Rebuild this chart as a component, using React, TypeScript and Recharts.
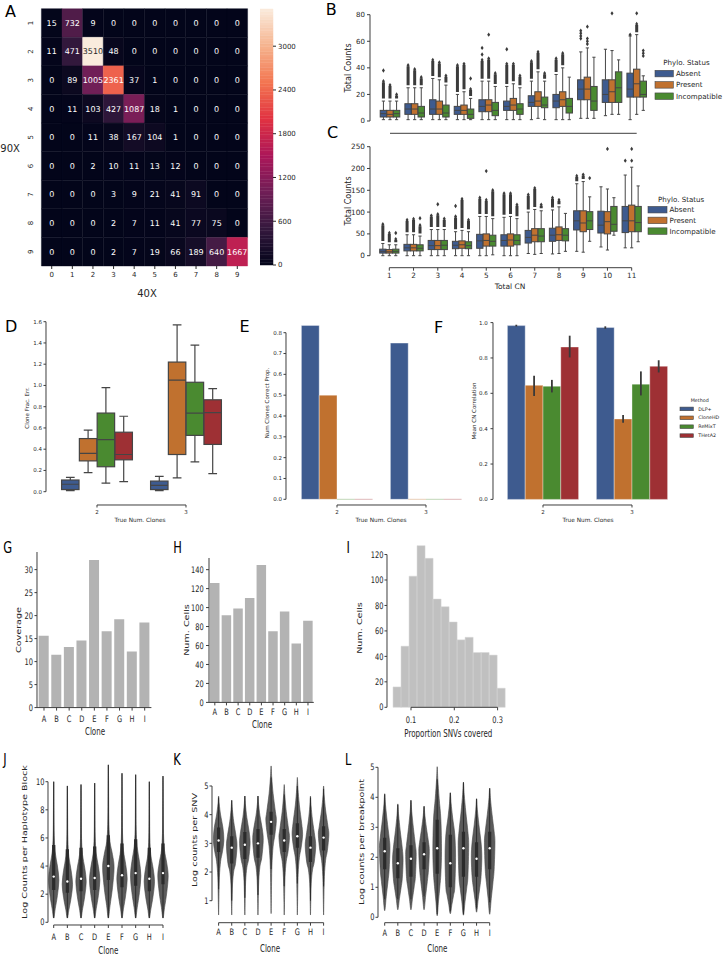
import React from 'react';
import { ComposedChart, BarChart, Bar, XAxis, YAxis, Scatter, ReferenceArea, ReferenceLine } from 'recharts';

const FONT = "'DejaVu Sans', 'Liberation Sans', sans-serif";
const INK = '#262626';
const AX = '#3d3d3d';
const EDGE = '#454545';
const FLIER = '#3b3b3b';
const SQ = 0.74;
const BLUE = '#3E5B8F';
const ORANGE = '#C0712F';
const GREEN = '#4A8A30';
const RED = '#9E3034';
const VFILL = '#5b5b5b';
const VEDGE = '#474747';
const VBOX = '#2b2b2b';

// ---------------- A: heatmap (90X rows vs 40X columns) ----------------
const heatCols = [0, 1, 2, 3, 4, 5, 6, 7, 8, 9];
const heatRows = [1, 2, 3, 4, 5, 6, 7, 8, 9];
const heatRow1 = [15, 732, 9, 0, 0, 0, 0, 0, 0, 0];
const heatRow2 = [11, 471, 3510, 48, 0, 0, 0, 0, 0, 0];
const heatRow3 = [0, 89, 1005, 2361, 37, 1, 0, 0, 0, 0];
const heatRow4 = [0, 11, 103, 427, 1087, 18, 1, 0, 0, 0];
const heatRow5 = [0, 0, 11, 38, 167, 104, 1, 0, 0, 0];
const heatRow6 = [0, 0, 2, 10, 11, 13, 12, 0, 0, 0];
const heatRow7 = [0, 0, 0, 3, 9, 21, 41, 91, 0, 0];
const heatRow8 = [0, 0, 0, 2, 7, 11, 41, 77, 75, 0];
const heatRow9 = [0, 0, 0, 2, 7, 19, 66, 189, 640, 1667];
const heatCounts = [heatRow1, heatRow2, heatRow3, heatRow4, heatRow5, heatRow6, heatRow7, heatRow8, heatRow9];
const colorbarTicks = [0, 600, 1200, 1800, 2400, 3000];
const rocketStops = ['#03051a', '#35193e', '#701f57', '#ad1759', '#e13342', '#f37651', '#f6b48f', '#faebdd'];

// ---------------- B / C: box plots by total CN ----------------
const totalCN = [1, 2, 3, 4, 5, 6, 7, 8, 9, 10, 11];
const phyloStatus = ['Absent', 'Present', 'Incompatible'];
// [whisker low, q1, median, q3, whisker high, top of dense outlier run (0 = none)]
const bAbsent = [[1, 3, 5.5, 8, 15, 30], [1, 5, 9, 13, 25, 42], [1, 5, 9, 16, 32, 46], [1, 5, 8, 11, 20, 42], [1, 7, 11, 16, 30, 46], [1, 8, 11, 15, 26, 43], [1, 11, 14, 19, 30, 45], [1, 10, 15, 20, 35, 47], [2, 16, 24, 31, 52, 0], [4, 14, 20, 31, 54, 0], [1, 18, 24, 36, 64, 0]];
const bPresent = [[1, 3, 5, 8, 15, 27], [1, 5, 9, 13, 25, 39], [1, 5, 9, 15, 31, 44], [1, 5, 8, 12, 22, 43], [1, 7, 12, 16, 30, 47], [1, 8, 12, 17, 28, 43], [2, 11, 15, 22, 37, 52], [1, 11, 16, 22, 40, 51], [2, 16, 24, 33, 55, 0], [5, 14, 22, 31, 53, 0], [5, 18, 28, 39, 65, 73]];
const bIncompatible = [[1, 3, 5.5, 8, 15, 20], [1, 3, 6, 11, 25, 33], [1, 3, 6, 12, 27, 34], [1, 2, 5, 9, 17, 24], [1, 4, 8, 14, 26, 36], [1, 5, 9, 13, 25, 34], [1, 10, 12, 18, 30, 36], [1, 6, 11, 17, 33, 0], [2, 8, 15, 26, 48, 0], [5, 14, 25, 37, 46, 0], [8, 18, 20, 30, 34, 0]];
// [total CN, status index, value]
const bOutliers = [[1, 0, 38], [5, 0, 50], [5, 0, 55], [5, 1, 65], [6, 0, 54], [4, 2, 32], [9, 0, 62], [9, 0, 64], [9, 0, 66], [9, 0, 68], [9, 1, 58], [9, 1, 60], [9, 1, 62], [9, 1, 71], [10, 1, 81], [11, 0, 65], [11, 1, 81], [11, 2, 49], [11, 2, 51], [11, 2, 53]];
const cAbsent = [[0, 6, 10, 15, 28, 72], [0, 11, 18, 26, 48, 82], [0, 14, 23, 35, 60, 92], [0, 16, 24, 33, 55, 90], [0, 17, 34, 49, 90, 133], [0, 22, 35, 48, 88, 143], [5, 29, 42, 58, 100, 140], [4, 33, 47, 63, 105, 133], [10, 59, 80, 103, 165, 183], [20, 52, 70, 102, 158, 0], [18, 53, 80, 113, 185, 0]];
const cPresent = [[0, 6, 9, 14, 25, 52], [0, 11, 18, 26, 48, 84], [0, 14, 23, 35, 60, 95], [0, 17, 25, 34, 58, 130], [0, 22, 35, 50, 90, 128], [0, 22, 36, 50, 90, 143], [3, 32, 47, 62, 106, 155], [5, 35, 48, 66, 112, 128], [8, 55, 75, 103, 170, 186], [13, 50, 78, 101, 153, 0], [18, 55, 80, 116, 203, 0]];
const cIncompatible = [[0, 6, 10, 15, 25, 38], [0, 11, 17, 25, 45, 70], [0, 14, 24, 35, 60, 85], [0, 16, 23, 32, 55, 82], [2, 22, 33, 47, 85, 150], [0, 25, 35, 48, 85, 117], [5, 32, 45, 62, 103, 117], [10, 34, 47, 62, 97, 0], [33, 60, 80, 101, 135, 0], [47, 56, 72, 113, 133, 0], [32, 55, 76, 113, 160, 0]];
const cOutliers = [[1, 2, 52], [2, 2, 86], [3, 1, 118], [4, 0, 114], [5, 1, 194], [9, 2, 178], [10, 1, 245], [11, 0, 218], [11, 1, 218], [11, 1, 245]];

// ---------------- D / E / F: methods ----------------
const methods = ['DLP+', 'CloneHD', 'ReMixT', 'THetA2'];
const trueClones = [2, 3];
// [whisker low, q1, median, q3, whisker high] per true num. clones
const dDLP = [[0.01, 0.02, 0.07, 0.11, 0.135], [0.01, 0.02, 0.06, 0.1, 0.145]];
const dCloneHD = [[0.18, 0.29, 0.36, 0.5, 0.58], [0.13, 0.35, 1.05, 1.22, 1.57]];
const dReMixT = [[0.08, 0.235, 0.49, 0.74, 0.98], [0.28, 0.53, 0.74, 1.03, 1.38]];
const dTHetA2 = [[0.095, 0.3, 0.35, 0.56, 0.71], [0.17, 0.445, 0.745, 0.865, 0.97]];
const eDLP = [0.835, 0.75];
const eCloneHD = [0.5, 0];
const eReMixT = [0, 0];
const eTHetA2 = [0, 0];
const fDLP = [0.983, 0.972];
const fCloneHD = [0.645, 0.455];
const fReMixT = [0.64, 0.652];
const fTHetA2 = [0.862, 0.753];
const fCiDLP = [[0.978, 0.988], [0.965, 0.979]];
const fCiCloneHD = [[0.585, 0.7], [0.434, 0.477]];
const fCiReMixT = [[0.605, 0.676], [0.588, 0.724]];
const fCiTHetA2 = [[0.803, 0.926], [0.718, 0.787]];

// ---------------- G / H / I ----------------
const clones = ['A', 'B', 'C', 'D', 'E', 'F', 'G', 'H', 'I'];
const gCoverage = [15.6, 11.5, 13.2, 14.6, 32.1, 16.6, 19.2, 12.2, 18.5];
const hNumCells = [126, 92, 99, 110, 145, 75, 96, 62, 86];
const iBinEdges = [0.0585, 0.077, 0.0955, 0.114, 0.1325, 0.151, 0.1695, 0.188, 0.2065, 0.225, 0.2435, 0.262, 0.2805, 0.299, 0.3175];
const iCounts = [16, 48, 103, 127, 117, 85, 79, 67, 53, 55, 43, 43, 41, 15];

// ---------------- J / K / L: violins ----------------
// [min, whisker low, q1, median, q3, whisker high, max, mode]
const jHaplo = [[0.3, 0.3, 2.3, 3.25, 5.5, 10.0, 10.0, 3.0], [0.3, 0.3, 2.1, 2.9, 5.2, 9.7, 9.7, 2.7], [0.3, 0.3, 2.2, 3.1, 5.3, 9.8, 9.8, 2.9], [0.3, 0.3, 2.3, 3.15, 5.4, 9.9, 9.9, 3.0], [0.3, 0.3, 3.0, 4.0, 6.2, 11.2, 11.2, 3.9], [0.3, 0.3, 2.5, 3.35, 5.6, 10.6, 10.6, 3.1], [0.3, 0.3, 2.6, 3.5, 5.9, 10.5, 10.5, 3.3], [0.3, 0.3, 2.2, 3.1, 5.3, 10.0, 10.0, 2.9], [0.3, 0.3, 2.7, 3.5, 5.6, 10.4, 10.4, 3.3]];
const kSnv = [[0.5, 1.4, 2.7, 3.1, 3.55, 4.6, 4.65, 3.1], [0.5, 1.0, 2.3, 2.85, 3.25, 4.5, 4.5, 2.9], [0.5, 1.1, 2.45, 2.95, 3.4, 4.65, 4.65, 3.0], [0.5, 1.2, 2.5, 3.0, 3.5, 4.65, 4.65, 3.1], [0.55, 2.1, 3.3, 3.75, 4.1, 5.3, 5.7, 3.8], [0.5, 1.5, 2.7, 3.1, 3.5, 4.7, 5.05, 3.2], [0.5, 1.6, 2.85, 3.25, 3.7, 5.0, 5.3, 3.3], [0.5, 1.0, 2.35, 2.85, 3.25, 4.6, 4.65, 2.9], [0.5, 1.5, 2.75, 3.2, 3.6, 4.9, 5.0, 3.3]];
const lBreak = [[0.22, 0.6, 1.6, 2.2, 2.65, 4.1, 4.12, 2.3], [0.25, 0.6, 1.3, 1.8, 2.3, 3.75, 3.78, 1.9], [0.25, 0.6, 1.35, 1.95, 2.4, 3.9, 3.9, 2.1], [0.25, 0.7, 1.6, 2.1, 2.5, 3.7, 3.7, 2.2], [0.05, 0.1, 1.45, 2.3, 3.25, 4.6, 5.02, 2.2], [0.12, 0.2, 1.0, 1.8, 2.75, 4.15, 4.15, 2.0], [0.07, 0.1, 1.35, 2.3, 2.85, 4.5, 4.5, 2.4], [0.17, 0.3, 1.35, 1.95, 2.5, 3.95, 3.95, 2.0], [0.1, 0.5, 1.6, 2.3, 2.85, 4.3, 4.3, 2.5]];
const jHalfWidth = [0.38, 0.38, 0.38, 0.38, 0.42, 0.38, 0.38, 0.38, 0.38];
const kHalfWidth = [0.4, 0.4, 0.4, 0.4, 0.4, 0.4, 0.4, 0.4, 0.4];
const lHalfWidth = [0.4, 0.4, 0.4, 0.4, 0.33, 0.4, 0.4, 0.4, 0.4];

// ---------------- helpers ----------------
const lin = (p1: number, v1: number, p2: number, v2: number) => (p: number) => v1 + ((p - p1) * (v2 - v1)) / (p2 - p1);
const frame = (x0: number, y0: number, x1: number, y1: number, l: number, t: number, r: number, b: number) => ({
  left: x0 - l, top: y0 - t, width: x1 - x0 + l + r, height: y1 - y0 + t + b,
  margin: { top: t, right: r, bottom: 0, left: 0 }, yW: l, xH: b,
});
const At = ({ f, children }: any) => <div style={{ position: 'absolute', left: f.left, top: f.top }}>{children}</div>;
const tk = (s: number) => ({ fontSize: s, fill: INK, fontFamily: FONT });
const hex = (h: string) => [1, 3, 5].map((i) => parseInt(h.slice(i, i + 2), 16));
function rocket(t: number) {
  const n = rocketStops.length;
  const s = Math.max(0, Math.min(1, t)) * (n - 1);
  const i = Math.min(Math.floor(s), n - 2);
  const f = s - i;
  const a = hex(rocketStops[i]);
  const b = hex(rocketStops[i + 1]);
  return `rgb(${a.map((v, k) => Math.round(v + (b[k] - v) * f)).join(',')})`;
}
const heatMax = Math.max(...heatCounts.map((r) => Math.max(...r)));
// heatmap plot box (pixels) shared by the chart and its row labels
const HM = { x0: 41.4, y0: 8.7, x1: 247.6, y1: 266 };

const sqTick = (kind: 'x' | 'y', fmt: (v: any) => string, size = 9) => (p: any) => (
  <text transform={`translate(${p.x},${p.y}) scale(${SQ},1)`} textAnchor={kind === 'x' ? 'middle' : 'end'} dy={kind === 'x' ? '0.71em' : '0.35em'} fontSize={size} fill={INK} fontFamily={FONT}>
    {fmt(p.payload.value)}
  </text>
);
const diamond = (cx: number, cy: number, k?: any) => <path key={k} d={`M${cx},${cy - 2.2}L${cx + 1.5},${cy}L${cx},${cy + 2.2}L${cx - 1.5},${cy}Z`} fill={FLIER} />;
const Diamond = (p: any) => diamond(p.cx, p.cy);
const NoShape = () => <g />;

function trimLines(xLine: number, yFrom: number, yTo: number, yLine: number, xFrom: number, xTo: number) {
  return [
    <ReferenceLine key="ya" ifOverflow="visible" segment={[{ x: xLine, y: yFrom }, { x: xLine, y: yTo }]} stroke={AX} strokeWidth={1} />,
    <ReferenceLine key="xa" ifOverflow="visible" segment={[{ x: xFrom, y: yLine }, { x: xTo, y: yLine }]} stroke={AX} strokeWidth={1} />,
  ];
}

// box glyph: 6 anchor points per box (q1-left, q3-right, low, high, median, outlier run top)
function boxPoints(rows: number[][], cats: number[], off: number, bw: number) {
  return rows.flatMap((r, i) => {
    const x = cats[i] + off;
    const [lo, q1, med, q3, hi, st] = r;
    return [{ x: x - bw / 2, y: q1 }, { x: x + bw / 2, y: q3 }, { x, y: lo }, { x, y: hi }, { x, y: med }, { x, y: st && st > hi ? st : hi }];
  });
}
const boxLine = (fill: string, lw: number) => (props: any) => {
  const p = props.points || [];
  const els: any[] = [];
  for (let i = 0; i + 5 < p.length; i += 6) {
    const [a, b, lo, hi, med, st] = p.slice(i, i + 6);
    const xl = Math.min(a.x, b.x);
    const xr = Math.max(a.x, b.x);
    const cx = lo.x;
    const cap = (xr - xl) / 4;
    els.push(
      <g key={i}>
        <line x1={cx} x2={cx} y1={lo.y} y2={a.y} stroke={EDGE} strokeWidth={lw} />
        <line x1={cx} x2={cx} y1={b.y} y2={hi.y} stroke={EDGE} strokeWidth={lw} />
        <line x1={cx - cap} x2={cx + cap} y1={lo.y} y2={lo.y} stroke={EDGE} strokeWidth={lw} />
        <line x1={cx - cap} x2={cx + cap} y1={hi.y} y2={hi.y} stroke={EDGE} strokeWidth={lw} />
        <rect x={xl} y={Math.min(a.y, b.y)} width={xr - xl} height={Math.abs(a.y - b.y)} fill={fill} stroke={EDGE} strokeWidth={lw} />
        <line x1={xl} x2={xr} y1={med.y} y2={med.y} stroke={EDGE} strokeWidth={lw} />
        {hi.y - st.y > 3 ? (
          <g>
            <line x1={cx} x2={cx} y1={hi.y - 2.5} y2={st.y + 1} stroke={FLIER} strokeWidth={3} />
            {diamond(cx, st.y)}
          </g>
        ) : null}
      </g>
    );
  }
  return <g>{els}</g>;
};

// violin glyph: 8 anchor points per violin
const lerp = (a: number, b: number, t: number) => a + (b - a) * t;
function violinKnots(kind: string, y: any): number[][] {
  if (kind === 'J')
    return [[lerp(y.lo, y.mode, 0.25), 0.3], [lerp(y.lo, y.mode, 0.6), 0.72], [y.mode, 1], [lerp(y.mode, y.q3, 0.4), 0.72], [lerp(y.mode, y.q3, 0.8), 0.28], [lerp(y.q3, y.hi, 0.15), 0.1], [lerp(y.q3, y.hi, 0.5), 0.055], [lerp(y.q3, y.hi, 0.85), 0.03]];
  if (kind === 'K')
    return [[lerp(y.lo, y.q1, 0.2), 0.05], [lerp(y.lo, y.q1, 0.6), 0.15], [lerp(y.lo, y.q1, 0.85), 0.38], [y.q1, 0.72], [y.mode, 1], [y.q3, 0.82], [lerp(y.q3, y.hi, 0.4), 0.38], [lerp(y.q3, y.hi, 0.75), 0.12]];
  return [[lerp(y.lo, y.q1, 0.35), 0.3], [lerp(y.lo, y.q1, 0.7), 0.62], [y.q1, 0.85], [y.mode, 1], [y.q3, 0.85], [lerp(y.q3, y.hi, 0.4), 0.45], [lerp(y.q3, y.hi, 0.75), 0.15]];
}
function smoothClosed(pts: number[][]) {
  const n = pts.length;
  let d = `M${pts[0][0]},${pts[0][1]}`;
  for (let i = 0; i < n; i++) {
    const p0 = pts[(i - 1 + n) % n], p1 = pts[i], p2 = pts[(i + 1) % n], p3 = pts[(i + 2) % n];
    const c1 = [p1[0] + (p2[0] - p0[0]) / 6, p1[1] + (p2[1] - p0[1]) / 6];
    const c2 = [p2[0] - (p3[0] - p1[0]) / 6, p2[1] - (p3[1] - p1[1]) / 6];
    d += `C${c1[0]},${c1[1]} ${c2[0]},${c2[1]} ${p2[0]},${p2[1]}`;
  }
  return d + 'Z';
}
function violinPoints(stats: number[][], half: number[]) {
  return stats.flatMap((s, i) => {
    const [lo, wlo, q1, med, q3, whi, hi, mode] = s;
    return [{ x: i, y: lo }, { x: i, y: wlo }, { x: i, y: q1 }, { x: i, y: med }, { x: i, y: q3 }, { x: i, y: whi }, { x: i, y: hi }, { x: i + half[i], y: mode }];
  });
}
const violinLine = (kind: string) => (props: any) => {
  const p = props.points || [];
  const els: any[] = [];
  for (let i = 0; i + 7 < p.length; i += 8) {
    const [lo, wlo, q1, med, q3, whi, hi, mode] = p.slice(i, i + 8);
    const cx = lo.x;
    const W = mode.x - lo.x;
    const y = { lo: lo.y, q1: q1.y, q3: q3.y, hi: hi.y, mode: mode.y };
    const knots = violinKnots(kind, y);
    const right = knots.map(([yy, w]) => [cx + w * W, yy]);
    const left = knots.slice().reverse().map(([yy, w]) => [cx - w * W, yy]);
    const outline = [[cx, y.lo], ...right, [cx, y.hi], ...left];
    els.push(
      <g key={i}>
        <path d={smoothClosed(outline)} fill={VFILL} stroke={VEDGE} strokeWidth={0.6} />
        <line x1={cx} x2={cx} y1={wlo.y} y2={whi.y} stroke={VBOX} strokeWidth={1} />
        <line x1={cx} x2={cx} y1={q1.y} y2={q3.y} stroke={VBOX} strokeWidth={3.2} />
        <circle cx={cx} cy={med.y} r={1.2} fill="#fff" />
      </g>
    );
  }
  return <g>{els}</g>;
};

// ---------------- panels ----------------
function PanelA() {
  const f = frame(HM.x0, HM.y0, HM.x1, HM.y1, HM.x0, HM.y0, 2, 22);
  const cells: any[] = [];
  heatCounts.forEach((row, ri) =>
    row.forEach((v, ci) => {
      const r = heatRows[ri];
      const c = heatCols[ci];
      const col = rocket(v / heatMax);
      cells.push(
        <ReferenceArea key={`${r}-${c}`} x1={c - 0.5} x2={c + 0.5} y1={r - 0.5} y2={r + 0.5} fill={col} fillOpacity={1} stroke={col} strokeWidth={0.4} ifOverflow="visible"
          label={{ value: String(v), position: 'center', fill: v / heatMax > 0.8 ? '#262626' : '#ffffff', fontSize: 8, fontFamily: FONT }} />
      );
    })
  );
  return (
    <At f={f}>
      <ComposedChart width={f.width} height={f.height} margin={f.margin}>
        <XAxis type="number" dataKey="x" domain={[-0.5, 9.5]} allowDataOverflow ticks={heatCols} interval={0} tickSize={3} tickMargin={3.5} tick={tk(7)} tickLine={{ stroke: INK }} axisLine={false} height={f.xH} />
        <YAxis type="number" dataKey="y" domain={[0.5, 9.5]} reversed allowDataOverflow ticks={heatRows} interval={0} tickSize={3} tickMargin={0} tick={false} tickLine={{ stroke: INK }} axisLine={false} width={f.yW} />
        {cells}
      </ComposedChart>
    </At>
  );
}

function Colorbar() {
  const steps = 96;
  const bands: any[] = [];
  for (let i = 0; i < steps; i++) {
    const a = (heatMax * i) / steps;
    const b = (heatMax * (i + 1)) / steps;
    const col = rocket((i + 0.5) / steps);
    bands.push(<ReferenceArea key={i} x1={0} x2={1} y1={a} y2={b} fill={col} fillOpacity={1} stroke={col} strokeWidth={0.5} ifOverflow="visible" />);
  }
  return (
    <div style={{ position: 'absolute', left: 260, top: 0 }}>
      <ComposedChart width={13 + 32} height={269} margin={{ top: 9, right: 0, bottom: 0, left: 0 }}>
        <XAxis type="number" dataKey="x" domain={[0, 1]} allowDataOverflow ticks={[0, 1]} tick={false} tickLine={false} axisLine={false} height={4} />
        <YAxis type="number" dataKey="y" orientation="right" domain={[0, heatMax]} allowDataOverflow ticks={colorbarTicks} interval={0} tickSize={3} tickMargin={2} tick={tk(7)} tickLine={{ stroke: INK }} axisLine={false} width={32} />
        {bands}
      </ComposedChart>
    </div>
  );
}

function BoxPanel({ f, xd, yd, yTicks, yAxisTop, xTickLabels, hueRows, offsets, bw, colors, outliers, cats, fs, lw, fmt, xTickSize, xTickMargin, yTickSize, yTickMargin }: any) {
  const pts = outliers.map(([c, h, v]: number[]) => ({ x: c + offsets[h], y: v }));
  return (
    <At f={f}>
      <ComposedChart width={f.width} height={f.height} margin={f.margin}>
        <XAxis type="number" dataKey="x" domain={xd} allowDataOverflow ticks={cats} interval={0} tickSize={xTickSize} tickMargin={xTickMargin} tick={xTickLabels ? tk(fs) : false} tickLine={{ stroke: AX }} axisLine={false} height={f.xH} />
        <YAxis type="number" dataKey="y" domain={yd} allowDataOverflow ticks={yTicks} interval={0} tickSize={yTickSize} tickMargin={yTickMargin} tick={tk(fs)} tickFormatter={fmt} tickLine={{ stroke: AX }} axisLine={false} width={f.yW} />
        {trimLines(xd[0], 0, yAxisTop, yd[0], cats[0], cats[cats.length - 1])}
        {hueRows.map((rows: number[][], h: number) => (
          <Scatter key={h} data={boxPoints(rows, cats, offsets[h], bw)} shape={NoShape} line={boxLine(colors[h], lw)} isAnimationActive={false} />
        ))}
        {pts.length ? <Scatter data={pts} shape={Diamond} isAnimationActive={false} /> : null}
      </ComposedChart>
    </At>
  );
}

function PanelB() {
  const xv = lin(390, 1, 636.7, 11);
  const yv = lin(121, 0, 14.7, 80);
  const f = frame(370, 10, 650, 133.3, 32, 4, 4, 6);
  return (
    <BoxPanel f={f} xd={[xv(370), xv(650)]} yd={[yv(133.3), yv(10)]} yTicks={[0, 20, 40, 60, 80]} yAxisTop={80} xTickLabels={false}
      hueRows={[bAbsent, bPresent, bIncompatible]} offsets={[-0.2667, 0, 0.2667]} bw={0.26} colors={[BLUE, ORANGE, GREEN]} outliers={bOutliers}
      cats={totalCN} fs={7} lw={1} fmt={(v: number) => String(v)} xTickSize={3} xTickMargin={2} yTickSize={3} yTickMargin={2} />
  );
}

function PanelC() {
  const xv = lin(389.3, 1, 631.7, 11);
  const yv = lin(255.7, 0, 146.7, 250);
  const f = frame(370, 142, 645, 267.7, 32, 4, 4, 18);
  return (
    <BoxPanel f={f} xd={[xv(370), xv(645)]} yd={[yv(267.7), yv(142)]} yTicks={[0, 50, 100, 150, 200, 250]} yAxisTop={250} xTickLabels
      hueRows={[cAbsent, cPresent, cIncompatible]} offsets={[-0.2667, 0, 0.2667]} bw={0.26} colors={[BLUE, ORANGE, GREEN]} outliers={cOutliers}
      cats={totalCN} fs={7.3} lw={1} fmt={(v: number) => String(v)} xTickSize={3} xTickMargin={2.6} yTickSize={3} yTickMargin={2} />
  );
}

function PanelD() {
  const xv = lin(96.7, 2, 185.7, 3);
  const yv = lin(491.7, 0, 321.7, 1.6);
  const f = frame(45.7, 317, 232, 505, 22, 4, 2, 14);
  return (
    <BoxPanel f={f} xd={[xv(45.7), xv(232)]} yd={[yv(505), yv(317)]} yTicks={[0, 0.2, 0.4, 0.6, 0.8, 1.0, 1.2, 1.4, 1.6]} yAxisTop={1.6} xTickLabels
      hueRows={[dDLP, dCloneHD, dReMixT, dTHetA2]} offsets={[-0.3, -0.1, 0.1, 0.3]} bw={0.196} colors={[BLUE, ORANGE, GREEN, RED]} outliers={[]}
      cats={trueClones} fs={5.5} lw={1.2} fmt={(v: number) => v.toFixed(1)} xTickSize={2.5} xTickMargin={2.2} yTickSize={2.5} yTickMargin={1.5} />
  );
}

const methodColors = [BLUE, ORANGE, GREEN, RED];
const methodOffsets = [-0.3, -0.1, 0.1, 0.3];

function PanelE() {
  const xv = lin(336.7, 2, 425.7, 3);
  const yv = lin(499.3, 0, 332.7, 0.8);
  const f = frame(285.7, 321, 472, 505, 22, 4, 2, 14);
  const xd = [xv(285.7), xv(472)];
  const yd = [yv(505), yv(321)];
  const vals = [eDLP, eCloneHD, eReMixT, eTHetA2];
  const marks: any[] = [];
  vals.forEach((arr, h) =>
    arr.forEach((v, ci) => {
      const x = trueClones[ci] + methodOffsets[h];
      marks.push(
        v > 0 ? (
          <ReferenceArea key={`${h}-${ci}`} x1={x - 0.1} x2={x + 0.1} y1={0} y2={v} fill={methodColors[h]} fillOpacity={1} stroke="#ffffff" strokeOpacity={0.45} strokeWidth={0.8} ifOverflow="visible" />
        ) : (
          <ReferenceLine key={`${h}-${ci}`} ifOverflow="visible" segment={[{ x: x - 0.1, y: 0 }, { x: x + 0.1, y: 0 }]} stroke={methodColors[h]} strokeOpacity={0.35} strokeWidth={1} />
        )
      );
    })
  );
  return (
    <At f={f}>
      <ComposedChart width={f.width} height={f.height} margin={f.margin}>
        <XAxis type="number" dataKey="x" domain={xd} allowDataOverflow ticks={trueClones} interval={0} tickSize={2.5} tickMargin={2.2} tick={tk(5.5)} tickLine={{ stroke: AX }} axisLine={false} height={f.xH} />
        <YAxis type="number" dataKey="y" domain={yd} allowDataOverflow ticks={[0, 0.1, 0.2, 0.3, 0.4, 0.5, 0.6, 0.7, 0.8]} interval={0} tickSize={2.5} tickMargin={1.5} tick={tk(5.5)} tickFormatter={(v: number) => v.toFixed(1)} tickLine={{ stroke: AX }} axisLine={false} width={f.yW} />
        {trimLines(xd[0], 0, 0.8, yd[0], 2, 3)}
        {marks}
      </ComposedChart>
    </At>
  );
}

function PanelF() {
  const xv = lin(543.3, 2, 632.3, 3);
  const yv = lin(499.4, 0, 322.6, 1.0);
  const f = frame(493.3, 318, 675, 505, 24, 4, 2, 14);
  const xd = [xv(493.3), xv(675)];
  const yd = [yv(505), yv(318)];
  const vals = [fDLP, fCloneHD, fReMixT, fTHetA2];
  const cis = [fCiDLP, fCiCloneHD, fCiReMixT, fCiTHetA2];
  const bars: any[] = [];
  const errs: any[] = [];
  vals.forEach((arr, h) =>
    arr.forEach((v, ci) => {
      const x = trueClones[ci] + methodOffsets[h];
      bars.push(<ReferenceArea key={`b${h}-${ci}`} x1={x - 0.1} x2={x + 0.1} y1={0} y2={v} fill={methodColors[h]} fillOpacity={1} stroke="#ffffff" strokeOpacity={0.45} strokeWidth={0.8} ifOverflow="visible" />);
      errs.push(<ReferenceLine key={`e${h}-${ci}`} ifOverflow="visible" segment={[{ x, y: cis[h][ci][0] }, { x, y: cis[h][ci][1] }]} stroke="#3a3a3a" strokeWidth={1.8} />);
    })
  );
  return (
    <At f={f}>
      <ComposedChart width={f.width} height={f.height} margin={f.margin}>
        <XAxis type="number" dataKey="x" domain={xd} allowDataOverflow ticks={trueClones} interval={0} tickSize={2.5} tickMargin={2.2} tick={tk(5.5)} tickLine={{ stroke: AX }} axisLine={false} height={f.xH} />
        <YAxis type="number" dataKey="y" domain={yd} allowDataOverflow ticks={[0, 0.2, 0.4, 0.6, 0.8, 1.0]} interval={0} tickSize={2.5} tickMargin={2.8} tick={tk(5.5)} tickFormatter={(v: number) => v.toFixed(1)} tickLine={{ stroke: AX }} axisLine={false} width={f.yW} />
        {trimLines(xd[0], 0, 1.0, yd[0], 2, 3)}
        {bars}
        {errs}
      </ComposedChart>
    </At>
  );
}

function PanelG() {
  const f = frame(37.3, 551.7, 151.7, 707.3, 30, 4, 4, 24);
  const data = clones.map((c, i) => ({ clone: c, v: gCoverage[i] }));
  return (
    <At f={f}>
      <BarChart width={f.width} height={f.height} margin={f.margin} data={data} barSize={10}>
        <XAxis dataKey="clone" padding={{ left: 0.7, right: 0.4 }} interval={0} tickSize={3} tickMargin={4.7} tick={sqTick('x', (v) => v)} tickLine={{ stroke: AX }} axisLine={{ stroke: AX }} height={f.xH} />
        <YAxis type="number" domain={[0, 33.83]} allowDataOverflow ticks={[0, 5, 10, 15, 20, 25, 30]} interval={0} tickSize={2.5} tickMargin={1.5} tick={sqTick('y', (v) => String(v))} tickLine={{ stroke: AX }} axisLine={{ stroke: AX }} width={f.yW} />
        <Bar dataKey="v" fill="#b3b3b3" isAnimationActive={false} />
      </BarChart>
    </At>
  );
}

function PanelH() {
  const f = frame(209.3, 558.3, 314.1, 702.7, 30, 4, 4, 24);
  const data = clones.map((c, i) => ({ clone: c, v: hNumCells[i] }));
  return (
    <At f={f}>
      <BarChart width={f.width} height={f.height} margin={f.margin} data={data} barSize={9.5}>
        <XAxis dataKey="clone" interval={0} tickSize={3} tickMargin={3.7} tick={sqTick('x', (v) => v)} tickLine={{ stroke: AX }} axisLine={{ stroke: AX }} height={f.xH} />
        <YAxis type="number" domain={[0, 152.3]} allowDataOverflow ticks={[0, 20, 40, 60, 80, 100, 120, 140]} interval={0} tickSize={3} tickMargin={2.3} tick={sqTick('y', (v) => String(v))} tickLine={{ stroke: AX }} axisLine={{ stroke: AX }} width={f.yW} />
        <Bar dataKey="v" fill="#b3b3b3" isAnimationActive={false} />
      </BarChart>
    </At>
  );
}

function PanelI() {
  const xv = lin(410.7, 0.1, 497.3, 0.3);
  const yv = lin(707.3, 0, 580, 100);
  const f = frame(386.7, 544, 510, 707.3, 30, 4, 4, 24);
  const xd = [xv(386.7), xv(510)];
  const yd = [0, yv(544)];
  return (
    <At f={f}>
      <ComposedChart width={f.width} height={f.height} margin={f.margin}>
        <XAxis type="number" dataKey="x" domain={xd} allowDataOverflow ticks={[0.1, 0.2, 0.3]} interval={0} tickSize={3} tickMargin={6.4} tick={sqTick('x', (v) => String(v))} tickLine={{ stroke: AX }} axisLine={false} height={f.xH} />
        <YAxis type="number" dataKey="y" domain={yd} allowDataOverflow ticks={[0, 20, 40, 60, 80, 100, 120]} interval={0} tickSize={2.5} tickMargin={1} tick={sqTick('y', (v) => String(v))} tickLine={{ stroke: AX }} axisLine={false} width={f.yW} />
        {iCounts.map((c, i) => (
          <ReferenceArea key={i} x1={iBinEdges[i]} x2={iBinEdges[i + 1]} y1={0} y2={c} fill="#c0c0c0" fillOpacity={1} stroke="#d6d6d6" strokeWidth={0.5} ifOverflow="visible" />
        ))}
        {trimLines(xd[0], 0, 120, 0, 0.1, 0.3)}
      </ComposedChart>
    </At>
  );
}

function ViolinPanel({ f, xd, yd, yTicks, yFrom, yTo, stats, half, kind, xMargin }: any) {
  return (
    <At f={f}>
      <ComposedChart width={f.width} height={f.height} margin={f.margin}>
        <XAxis type="number" dataKey="x" domain={xd} allowDataOverflow ticks={[0, 1, 2, 3, 4, 5, 6, 7, 8]} interval={0} tickSize={3} tickMargin={xMargin} tick={sqTick('x', (v) => clones[v])} tickLine={{ stroke: AX }} axisLine={false} height={f.xH} />
        <YAxis type="number" dataKey="y" domain={yd} allowDataOverflow ticks={yTicks} interval={0} tickSize={2.5} tickMargin={1} tick={sqTick('y', (v) => String(v))} tickLine={{ stroke: AX }} axisLine={false} width={f.yW} />
        {trimLines(xd[0], yFrom, yTo, yd[0], 0, 8)}
        <Scatter data={violinPoints(stats, half)} shape={NoShape} line={violinLine(kind)} isAnimationActive={false} />
      </ComposedChart>
    </At>
  );
}

function PanelJ() {
  const xv = lin(54, 0, 163.3, 8);
  const yv = lin(922.3, 0, 781.7, 10);
  const f = frame(48.3, 760, 172, 925, 30, 4, 4, 24);
  return <ViolinPanel f={f} xd={[xv(48.3), xv(172)]} yd={[yv(925), yv(760)]} yTicks={[0, 2, 4, 6, 8, 10]} yFrom={0} yTo={10} stats={jHaplo} half={jHalfWidth} kind="J" xMargin={6} />;
}
function PanelK() {
  const xv = lin(218.3, 0, 323.3, 8);
  const yv = lin(900.7, 1, 786, 5);
  const f = frame(211.7, 762, 333, 922.7, 30, 4, 4, 24);
  return <ViolinPanel f={f} xd={[xv(211.7), xv(333)]} yd={[yv(922.7), yv(762)]} yTicks={[1, 2, 3, 4, 5]} yFrom={1} yTo={5} stats={kSnv} half={kHalfWidth} kind="K" xMargin={2.7} />;
}
function PanelL() {
  const xv = lin(385, 0, 490, 8);
  const yv = lin(917.3, 0, 767.3, 5);
  const f = frame(378.3, 762, 500, 922.7, 30, 4, 4, 24);
  return <ViolinPanel f={f} xd={[xv(378.3), xv(500)]} yd={[yv(922.7), yv(762)]} yTicks={[0, 1, 2, 3, 4, 5]} yFrom={0} yTo={5} stats={lBreak} half={lHalfWidth} kind="L" xMargin={3.7} />;
}

// ---------------- text overlay ----------------
function Txt({ x, y, children, size = 7, anchor = 'middle', rot = false, sq = false, base = false, color = INK }: any) {
  const sc = sq ? (rot ? ` scale(1,${SQ})` : ` scale(${SQ},1)`) : '';
  const tr = `translate(${x},${y})${rot ? ' rotate(-90)' : ''}${sc}`;
  return (
    <text transform={tr} textAnchor={anchor} dy={base ? undefined : '0.35em'} fontSize={size} fill={color} fontFamily={FONT}>
      {children}
    </text>
  );
}

function Legend({ x, y, title, items, colors, size, sw, sh, gap, tx, titleX }: any) {
  return (
    <g>
      <Txt x={titleX} y={y} size={size} anchor="start">{title}</Txt>
      {items.map((it: string, i: number) => (
        <g key={it}>
          <rect x={x} y={y + gap * (i + 1) - sh / 2} width={sw} height={sh} fill={colors[i]} stroke={EDGE} strokeWidth={0.6} />
          <Txt x={tx} y={y + gap * (i + 1)} size={size} anchor="start">{it}</Txt>
        </g>
      ))}
    </g>
  );
}

function Overlay() {
  const rowH = (HM.y1 - HM.y0) / heatRows.length;
  return (
    <svg width={724} height={956} style={{ position: 'absolute', left: 0, top: 0, pointerEvents: 'none' }}>
      {/* heatmap row labels (rotated, as drawn by seaborn) */}
      {heatRows.map((r, i) => (
        <text key={r} transform={`translate(33.4,${HM.y0 + (i + 0.5) * rowH}) rotate(-90)`} textAnchor="middle" fontSize={7} fill={INK} fontFamily={FONT}>{r}</text>
      ))}
      {/* panel letters */}
      <Txt x={5} y={16.7} size={16} anchor="start" base color="#000">A</Txt>
      <Txt x={325.7} y={15} size={16} anchor="start" base color="#000">B</Txt>
      <Txt x={327} y={138.3} size={16} anchor="start" base color="#000">C</Txt>
      <Txt x={5} y={331.7} size={16} anchor="start" base color="#000">D</Txt>
      <Txt x={239.5} y={331.7} size={16} anchor="start" base color="#000">E</Txt>
      <Txt x={434} y={333} size={16} anchor="start" base color="#000">F</Txt>
      <Txt x={3.3} y={552.7} size={15.5} anchor="start" base sq color="#000">G</Txt>
      <Txt x={173.3} y={552.7} size={15.5} anchor="start" base sq color="#000">H</Txt>
      <Txt x={346.5} y={552.7} size={15.5} anchor="start" base sq color="#000">I</Txt>
      <Txt x={3.3} y={765} size={15.5} anchor="start" base sq color="#000">J</Txt>
      <Txt x={173.3} y={765} size={15.5} anchor="start" base sq color="#000">K</Txt>
      <Txt x={345} y={765} size={15.5} anchor="start" base sq color="#000">L</Txt>

      {/* A */}
      <Txt x={0.3} y={148} size={10} anchor="start">90X</Txt>
      <Txt x={147} y={293} size={10}>40X</Txt>

      {/* B / C */}
      <Txt x={348} y={68} size={8} rot>Total Counts</Txt>
      <Txt x={348} y={201} size={8} rot>Total Counts</Txt>
      <Txt x={510} y={286} size={7.5}>Total CN</Txt>
      <Legend x={655} y={62.3} titleX={663.3} title="Phylo. Status" items={phyloStatus} colors={[BLUE, ORANGE, GREEN]} size={7.1} sw={18.3} sh={6.5} gap={11.3} tx={676} />
      <Legend x={648} y={199} titleX={658} title="Phylo. Status" items={phyloStatus} colors={[BLUE, ORANGE, GREEN]} size={7.1} sw={19} sh={6.5} gap={10.7} tx={669.5} />

      {/* D / E / F */}
      <Txt x={26.7} y={408} size={5.5} rot>Clone Frac. Err.</Txt>
      <Txt x={140} y={520} size={5.8}>True Num. Clones</Txt>
      <Txt x={266.7} y={403} size={5.5} rot>Num Clones Correct Prop.</Txt>
      <Txt x={381} y={520} size={5.8}>True Num. Clones</Txt>
      <Txt x={474} y={411} size={5.5} rot>Mean CN Correlation</Txt>
      <Txt x={588} y={520} size={5.8}>True Num. Clones</Txt>
      <Legend x={680} y={400} titleX={690.7} title="Method" items={methods} colors={methodColors} size={4.8} sw={13.3} sh={3.6} gap={8.9} tx={698.3} />

      {/* G / H / I */}
      <Txt x={18.3} y={630} size={9.6} rot sq>Coverage</Txt>
      <Txt x={95} y={731.7} size={9.6} sq>Clone</Txt>
      <Txt x={186.7} y={630} size={9.6} rot sq>Num. Cells</Txt>
      <Txt x={262} y={725} size={9.6} sq>Clone</Txt>
      <Txt x={360} y={628} size={9.6} rot sq>Num. Cells</Txt>
      <Txt x={448.3} y={733.3} size={9.6} sq>Proportion SNVs covered</Txt>

      {/* J / K / L */}
      <Txt x={25} y={842} size={9.6} rot sq>Log Counts per Haplotype Block</Txt>
      <Txt x={108.3} y={950.7} size={9.6} sq>Clone</Txt>
      <Txt x={195} y={840} size={9.6} rot sq>Log counts per SNV</Txt>
      <Txt x={270} y={948.3} size={9.6} sq>Clone</Txt>
      <Txt x={361.7} y={842} size={9.6} rot sq>Log counts per breakpoint</Txt>
      <Txt x={437.3} y={948.3} size={9.6} sq>Clone</Txt>
    </svg>
  );
}

export default function App() {
  return (
    <div style={{ position: 'absolute', left: 0, top: 0, width: 724, height: 956, background: '#fff', overflow: 'hidden', fontFamily: FONT }}>
      <PanelA />
      <Colorbar />
      <PanelB />
      <PanelC />
      <PanelD />
      <PanelE />
      <PanelF />
      <PanelG />
      <PanelH />
      <PanelI />
      <PanelJ />
      <PanelK />
      <PanelL />
      <Overlay />
    </div>
  );
}
